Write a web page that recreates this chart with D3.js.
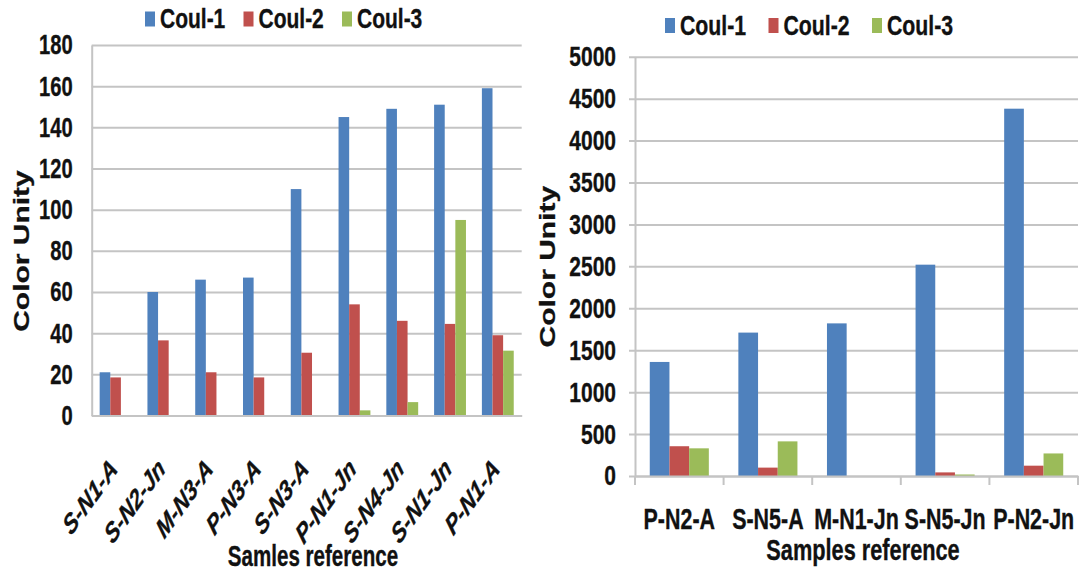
<!DOCTYPE html>
<html>
<head>
<meta charset="utf-8">
<script src="https://cdn.jsdelivr.net/npm/d3@7"></script>
<style>
  html, body { margin: 0; padding: 0; background: #fff; }
  svg { display: block; }
  text { font-family: "Liberation Sans", Arial, sans-serif; font-weight: bold; fill: #111; stroke: #111; stroke-width: 0.35px; }
</style>
</head>
<body>
<svg id="chart" width="1079" height="573"></svg>
<script>
// ---- data -------------------------------------------------------------
const seriesNames = ["Coul-1", "Coul-2", "Coul-3"];

const leftCategories = ["S-N1-A", "S-N2-Jn", "M-N3-A", "P-N3-A", "S-N3-A", "P-N1-Jn", "S-N4-Jn", "S-N1-Jn", "P-N1-A"];
const leftCoul1 = [21, 60, 66, 67, 110, 145, 149, 151, 159];
const leftCoul2 = [18.5, 36.5, 21, 18.5, 30.5, 54, 46, 44.5, 39];
const leftCoul3 = [0, 0, 0, 0, 0, 2.5, 6.5, 95, 31.5];
const leftTicks = [0, 20, 40, 60, 80, 100, 120, 140, 160, 180];

const rightCategories = ["P-N2-A", "S-N5-A", "M-N1-Jn", "S-N5-Jn", "P-N2-Jn"];
const rightCoul1 = [1360, 1710, 1820, 2520, 4380];
const rightCoul2 = [355, 100, 0, 43, 123];
const rightCoul3 = [330, 413, 0, 18, 269];
const rightTicks = [0, 500, 1000, 1500, 2000, 2500, 3000, 3500, 4000, 4500, 5000];

// ---- styles -----------------------------------------------------------
const seriesColors = ["#4F81BD", "#C0504D", "#9BBB59"];
const GRID = "#c4c4c4";

const svg = d3.select("#chart");

// text drawn narrow: positioned, then horizontally compressed
function narrowText(parent, x, y, str, size, sx, anchor, rotate) {
  return parent.append("text")
    .attr("transform", `translate(${x},${y}) scale(${sx},1)` + (rotate ? ` rotate(${rotate})` : ""))
    .attr("text-anchor", anchor)
    .style("font-size", size + "px")
    .text(str);
}

function drawPanel(p) {
  const g = svg.append("g");
  const x0 = d3.scaleBand().domain(p.categories).range([p.left, p.right]).padding(0);
  const bw = x0.bandwidth();
  const x1 = d3.scaleBand().domain(d3.range(seriesNames.length)).range([bw / 6, bw * 5 / 6]).padding(0);
  const y = d3.scaleLinear().domain([0, p.max]).range([p.bottom, p.top]);
  const width = p.right - p.left;

  // value axis + horizontal gridlines
  const yAxis = g.append("g")
    .attr("transform", `translate(${p.left},0)`)
    .call(d3.axisLeft(y).tickValues(p.ticks).tickSize(-width).tickSizeOuter(0)
      .tickPadding(p.tickPad).tickFormat(d3.format("d")));
  yAxis.attr("font-size", null).attr("font-family", null);
  yAxis.select(".domain").attr("stroke", GRID).attr("stroke-width", 2);
  yAxis.selectAll(".tick line")
    .attr("stroke", GRID).attr("stroke-width", 2)
    .attr("x1", -p.outerTick);
  yAxis.selectAll(".tick text")
    .attr("x", -p.tickPad / p.tickSx)
    .attr("transform", `scale(${p.tickSx},1)`)
    .style("font-size", p.tickFont + "px");

  // grouped bars
  g.append("g").selectAll("g")
    .data(p.categories)
    .join("g")
    .attr("transform", c => `translate(${x0(c)},0)`)
    .selectAll("rect")
    .data((c, i) => p.values.map((s, k) => ({ k, v: s[i] })))
    .join("rect")
    .attr("x", d => x1(d.k))
    .attr("width", x1.bandwidth())
    .attr("y", d => y(d.v))
    .attr("height", d => y(0) - y(d.v))
    .attr("fill", d => seriesColors[d.k]);

  // category axis
  const xAxis = g.append("g")
    .attr("transform", `translate(0,${p.bottom})`)
    .call(d3.axisBottom(x0).tickSize(0).tickSizeOuter(0));
  xAxis.attr("font-size", null).attr("font-family", null);
  xAxis.select(".domain").attr("stroke", GRID).attr("stroke-width", 2);
  xAxis.selectAll(".tick text")
    .attr("y", 0).attr("dy", null)
    .attr("text-anchor", p.rotateLabels ? "end" : "middle")
    .attr("transform", p.rotateLabels
      ? `translate(${p.labelDx},${p.labelDy}) scale(${p.labelSx},1) rotate(-45)`
      : `translate(0,${p.labelDy}) scale(${p.labelSx},1)`)
    .style("font-size", p.labelFont + "px")
    .style("font-style", p.rotateLabels ? "italic" : "normal");

  if (p.boundaryTicks) {
    const edges = [x0(p.categories[0])].concat(p.categories.map(c => x0(c) + bw));
    xAxis.append("g").selectAll("line")
      .data(edges)
      .join("line")
      .attr("x1", d => d).attr("x2", d => d)
      .attr("y1", 0).attr("y2", 9)
      .attr("stroke", GRID).attr("stroke-width", 2);
  }

  // axis titles
  narrowText(g, p.yTitleX, p.yTitleY, "Color Unity", 30, 0.72, "middle", -90);
  narrowText(g, p.xTitleX, p.xTitleY, p.xTitle, 29, p.xTitleSx, "middle");

  // legend
  const lg = g.append("g");
  seriesNames.forEach((name, k) => {
    const lx = p.legendX + k * p.legendStep;
    lg.append("rect")
      .attr("x", lx).attr("y", p.legendY - 16.5)
      .attr("width", 10).attr("height", 15)
      .attr("fill", seriesColors[k]);
    narrowText(lg, lx + 15, p.legendY, name, 28, p.legendSx, "start");
  });
}

drawPanel({
  categories: leftCategories,
  values: [leftCoul1, leftCoul2, leftCoul3],
  ticks: leftTicks, max: 180,
  left: 91.7, right: 521.7, top: 45, bottom: 415.5,
  tickPad: 19, tickSx: 0.72, tickFont: 28, outerTick: 0,
  rotateLabels: true, labelDx: 3, labelDy: 55, labelSx: 0.72, labelFont: 28,
  boundaryTicks: false,
  yTitleX: 29, yTitleY: 251,
  xTitle: "Samles reference", xTitleX: 313, xTitleY: 566, xTitleSx: 0.71,
  legendX: 145, legendStep: 98.5, legendY: 28, legendSx: 0.75
});

drawPanel({
  categories: rightCategories,
  values: [rightCoul1, rightCoul2, rightCoul3],
  ticks: rightTicks, max: 5000,
  left: 635, right: 1078, top: 56.7, bottom: 476,
  tickPad: 19, tickSx: 0.75, tickFont: 28, outerTick: 6,
  rotateLabels: false, labelDy: 53, labelSx: 0.74, labelFont: 29,
  boundaryTicks: true,
  yTitleX: 555, yTitleY: 266.7,
  xTitle: "Samples reference", xTitleX: 863, xTitleY: 560, xTitleSx: 0.75,
  legendX: 665, legendStep: 103.5, legendY: 34.5, legendSx: 0.76
});
</script>
</body>
</html>
